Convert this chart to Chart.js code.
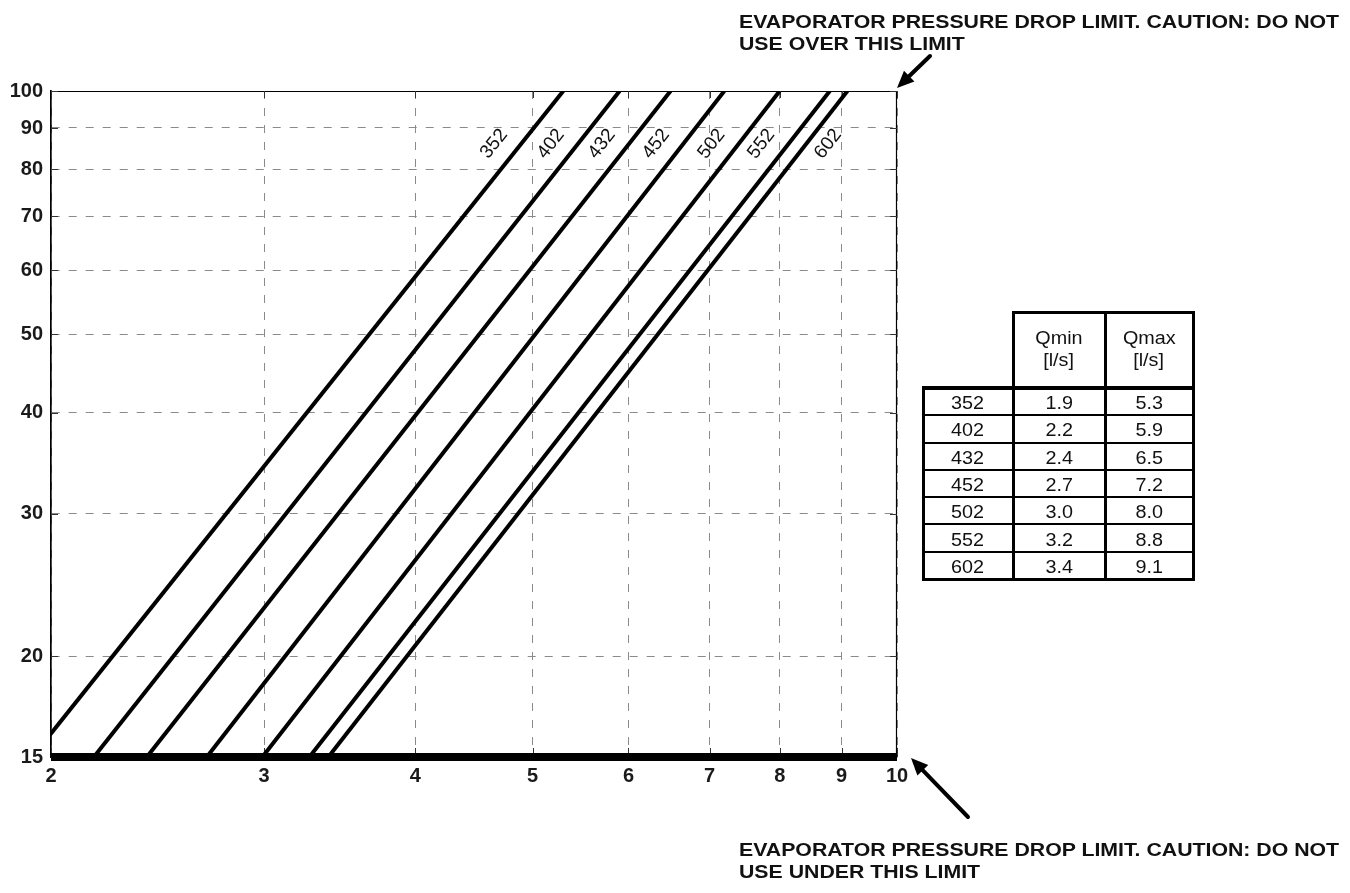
<!DOCTYPE html>
<html>
<head>
<meta charset="utf-8">
<script src="https://cdn.jsdelivr.net/npm/chart.js"></script>
<style>
html,body{margin:0;padding:0;background:#fff;}
#wrap{position:relative;width:1350px;height:893px;overflow:hidden;font-family:"Liberation Sans",Arial,sans-serif;color:#111;}
#c{position:absolute;left:0;top:0;}
.note{position:absolute;left:739px;font-weight:bold;font-size:18.5px;line-height:22px;white-space:nowrap;transform:scaleX(1.15);transform-origin:0 0;}
.rule{position:absolute;background:#000;}
.cell{position:absolute;width:100px;text-align:center;font-size:17.5px;line-height:20px;white-space:nowrap;}
.cell span{display:inline-block;transform:scaleX(1.13);}
svg{position:absolute;left:0;top:0;}
</style>
</head>
<body>
<div id="wrap">
  <canvas id="c" width="1350" height="893"></canvas>
  <div class="note" id="noteTop" style="top:10.8px"></div>
  <div class="note" id="noteBottom" style="top:838.8px"></div>
  <div id="tbl"></div>
  <svg width="1350" height="893" id="arrows"></svg>
</div>
<script>
// ---------------- data ----------------
const models = ['352', '402', '432', '452', '502', '552', '602'];
const qMin = ['1.9', '2.2', '2.4', '2.7', '3.0', '3.2', '3.4'];      // table, l/s
const qMax = ['5.3', '5.9', '6.5', '7.2', '8.0', '8.8', '9.1'];      // table, l/s
const qAtLowLimit = [1.93, 2.17, 2.40, 2.69, 2.99, 3.27, 3.39];     // flow where each curve meets 15 kPa (read)
const qAtHighLimit = [5.3, 5.9, 6.5, 7.2, 8.0, 8.8, 9.1];           // flow where each curve meets 100 kPa
const dpLowLimit = 15;
const dpHighLimit = 100;
const xTicks = [2, 3, 4, 5, 6, 7, 8, 9, 10];
const yTicks = [15, 20, 30, 40, 50, 60, 70, 80, 90, 100];
const tableHeader = ['', 'Qmin|[l/s]', 'Qmax|[l/s]'];
const noteTop = ['EVAPORATOR PRESSURE DROP LIMIT. CAUTION: DO NOT', 'USE OVER THIS LIMIT'];
const noteBottom = ['EVAPORATOR PRESSURE DROP LIMIT. CAUTION: DO NOT', 'USE UNDER THIS LIMIT'];
const labelDp = 86;

// ---------------- chart ----------------
const FONT = '"Liberation Sans", Arial, sans-serif';

const datasets = models.map((m, i) => ({
  label: m,
  data: [{x: qAtLowLimit[i], y: dpLowLimit}, {x: qAtHighLimit[i], y: dpHighLimit}],
  borderColor: '#000',
  borderWidth: 4,
  pointRadius: 0,
  tension: 0,
  clip: 0
}));
datasets.push({
  label: 'low limit',
  data: [{x: xTicks[0], y: dpLowLimit}, {x: xTicks[xTicks.length - 1], y: dpLowLimit}],
  borderColor: '#000',
  borderWidth: 8,
  pointRadius: 0,
  clip: 6
});

const framePlugin = {
  id: 'frame',
  beforeDatasetsDraw(chart) {
    const {ctx, chartArea: a, scales: {x, y}} = chart;
    ctx.save();
    ctx.strokeStyle = '#000';
    ctx.lineWidth = 1.2;
    ctx.beginPath();
    ctx.moveTo(a.left, a.top + 0.5); ctx.lineTo(a.right, a.top + 0.5);
    ctx.moveTo(a.right - 0.5, a.top); ctx.lineTo(a.right - 0.5, a.bottom);
    ctx.stroke();
    ctx.strokeStyle = '#333';
    ctx.lineWidth = 1;
    ctx.beginPath();
    yTicks.forEach(v => {
      const p = Math.round(y.getPixelForValue(v)) + 0.5;
      ctx.moveTo(a.left, p); ctx.lineTo(a.left + 7, p);
      ctx.moveTo(a.right, p); ctx.lineTo(a.right - 7, p);
    });
    xTicks.forEach(v => {
      const p = Math.round(x.getPixelForValue(v)) + 0.5;
      ctx.moveTo(p, a.top); ctx.lineTo(p, a.top + 7);
      ctx.moveTo(p, a.bottom); ctx.lineTo(p, a.bottom - 9);
    });
    ctx.stroke();
    ctx.restore();
  }
};

const labelPlugin = {
  id: 'lineLabels',
  afterDatasetsDraw(chart) {
    const {ctx, scales: {x, y}} = chart;
    models.forEach((m, i) => {
      const x0 = x.getPixelForValue(qAtLowLimit[i]), y0 = y.getPixelForValue(dpLowLimit);
      const x1 = x.getPixelForValue(qAtHighLimit[i]), y1 = y.getPixelForValue(dpHighLimit);
      const py = y.getPixelForValue(labelDp);
      const t = (py - y0) / (y1 - y0);
      const px = x0 + t * (x1 - x0);
      const ang = Math.atan2(y1 - y0, x1 - x0);
      const right = i === models.length - 1;
      const off = right ? 22 : -27;
      ctx.save();
      ctx.translate(px + off, py);
      ctx.rotate(ang);
      ctx.font = '19px ' + FONT;
      ctx.fillStyle = '#111';
      ctx.textAlign = 'center';
      ctx.textBaseline = 'middle';
      ctx.fillText(m, 0, 0);
      ctx.restore();
    });
  }
};

const tickFont = {family: FONT, size: 20, weight: 'bold'};

new Chart(document.getElementById('c'), {
  type: 'line',
  data: {datasets},
  options: {
    responsive: false,
    animation: false,
    devicePixelRatio: 1,
    layout: {padding: {top: 91, right: 453, left: 0, bottom: 0}},
    plugins: {legend: {display: false}, tooltip: {enabled: false}},
    events: [],
    scales: {
      x: {
        type: 'logarithmic',
        position: 'bottom',
        min: 2, max: 10,
        afterBuildTicks: s => { s.ticks = xTicks.map(v => ({value: v})); },
        afterFit: s => { s.height = 136; s.paddingLeft = 0; s.paddingRight = 0; },
        ticks: {autoSkip: false, maxRotation: 0, minRotation: 0, padding: 7, color: '#1a1a1a', font: tickFont,
          callback: v => String(v)},
        grid: {color: '#8a8a8a', lineWidth: 1, drawTicks: false},
        border: {display: true, color: '#000', width: 1.2, dash: [8, 9]}
      },
      y: {
        type: 'logarithmic',
        position: 'left',
        min: 15, max: 100,
        afterBuildTicks: s => { s.ticks = yTicks.map(v => ({value: v})); },
        afterFit: s => { s.width = 51; s.paddingTop = 0; s.paddingBottom = 0; },
        ticks: {autoSkip: false, padding: 8, color: '#1a1a1a', font: tickFont,
          callback: v => String(v)},
        grid: {color: '#8a8a8a', lineWidth: 1, drawTicks: false},
        border: {display: true, color: '#000', width: 1.7, dash: [8, 9]}
      }
    }
  },
  plugins: [framePlugin, labelPlugin]
});

// ---------------- notes ----------------
document.getElementById('noteTop').innerHTML = noteTop.join('<br>');
document.getElementById('noteBottom').innerHTML = noteBottom.join('<br>');

// ---------------- table ----------------
(function () {
  const tbl = document.getElementById('tbl');
  const cols = [923, 1013, 1105, 1193];
  const top = 312, headBottom = 388, bottom = 579;
  const pitch = (bottom - headBottom) / models.length;
  function rule(x, y, w, h) {
    const d = document.createElement('div');
    d.className = 'rule';
    d.style.left = x + 'px'; d.style.top = y + 'px';
    d.style.width = w + 'px'; d.style.height = h + 'px';
    tbl.appendChild(d);
  }
  function text(cx, cy, s) {
    const d = document.createElement('div');
    d.className = 'cell';
    d.style.left = (cx - 50) + 'px';
    d.style.top = (cy - 10) + 'px';
    const sp = document.createElement('span');
    sp.textContent = s;
    d.appendChild(sp);
    tbl.appendChild(d);
  }
  rule(cols[1] - 1.5, top - 1.5, cols[3] - cols[1] + 3, 3);
  [1, 2, 3].forEach(c => rule(cols[c] - 1.5, top - 1.5, 3, bottom - top + 3));
  rule(cols[0] - 1.5, headBottom - 1.5, 3, bottom - headBottom + 3);
  rule(cols[0] - 1.5, headBottom - 1.7, cols[3] - cols[0] + 3, 3.4);
  for (let k = 1; k < models.length; k++) {
    rule(cols[0], headBottom + pitch * k - 1, cols[3] - cols[0], 2);
  }
  rule(cols[0] - 1.5, bottom - 1.5, cols[3] - cols[0] + 3, 3);
  const centers = [0, 1, 2].map(c => (cols[c] + cols[c + 1]) / 2);
  tableHeader.forEach((h, c) => {
    if (!h) return;
    const parts = h.split('|');
    text(centers[c], 338, parts[0]);
    text(centers[c], 360, parts[1]);
  });
  models.forEach((m, i) => {
    const cy = headBottom + pitch * (i + 0.5) + 1.5;
    text(centers[0], cy, m);
    text(centers[1], cy, qMin[i]);
    text(centers[2], cy, qMax[i]);
  });
})();

// ---------------- arrows ----------------
(function () {
  const svg = document.getElementById('arrows');
  const NS = 'http://www.w3.org/2000/svg';
  function arrow(x0, y0, x1, y1) {
    const dx = x1 - x0, dy = y1 - y0, L = Math.hypot(dx, dy);
    const ux = dx / L, uy = dy / L;
    const hl = 17, hw = 7.5;
    const bx = x1 - ux * hl, by = y1 - uy * hl;
    const ln = document.createElementNS(NS, 'line');
    ln.setAttribute('x1', x0); ln.setAttribute('y1', y0);
    ln.setAttribute('x2', bx + ux * 2); ln.setAttribute('y2', by + uy * 2);
    ln.setAttribute('stroke', '#000'); ln.setAttribute('stroke-width', 4);
    ln.setAttribute('stroke-linecap', 'round');
    svg.appendChild(ln);
    const pg = document.createElementNS(NS, 'polygon');
    pg.setAttribute('points', `${x1},${y1} ${bx - uy * hw},${by + ux * hw} ${bx + uy * hw},${by - ux * hw}`);
    pg.setAttribute('fill', '#000');
    svg.appendChild(pg);
  }
  arrow(930, 56, 897, 88);
  arrow(968, 817, 911, 758);
})();
</script>
</body>
</html>
